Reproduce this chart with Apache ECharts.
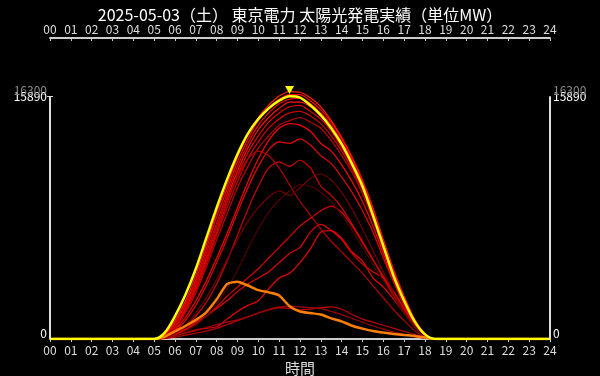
<!DOCTYPE html>
<html>
<head>
<meta charset="UTF-8">
<title>東京電力 太陽光発電実績</title>
<script type="text/javascript" src="https://cdn.jsdelivr.net/npm/echarts@6/dist/echarts.min.js"></script>
</head>
<body style="margin:0;background:#000">
	<div id="main" style="width:600px;height:376px"></div>
<script type="text/javascript">
var titleText = '2025-05-03（土） 東京電力 太陽光発電実績（単位MW）';
var recordMax = 16300;

// 05:00 - 18:30, 30分ごと (それ以外は0)
var hours = [5, 5.5, 6, 6.5, 7, 7.5, 8, 8.5, 9, 9.5, 10, 10.5, 11, 11.5, 12, 12.5,
  13, 13.5, 14, 14.5, 15, 15.5, 16, 16.5, 17, 17.5, 18, 18.5];

// 当日
var today = [0, 400, 1500, 2900, 4600, 6600, 8600, 10450, 12100, 13450, 14400, 15100, 15600, 15890,
  15800, 15300, 14650, 13800, 12750, 11450, 10000, 8100, 6100, 4100, 2500, 1150, 300, 0];

// 曇りの日
var cloudyDay = [0, 150, 500, 850, 1250, 1750, 2600, 3600, 3750, 3500, 3200, 3050, 2850, 2150,
  1800, 1700, 1600, 1350, 1150, 870, 680, 520, 420, 330, 260, 200, 100, 0];

// 過去の日
var pastDays = [
  [0, 250, 1200, 2500, 4200, 6200, 8300, 10100, 11900, 13400, 14500, 15300, 15900, 16200, 16150, 15800, 15200, 14300, 13200, 11900, 10400, 8600, 6500, 4500, 2800, 1300, 350, 0],
  [0, 200, 1050, 2300, 3900, 5900, 8000, 9800, 11600, 13100, 14300, 15100, 15700, 16000, 16000, 15600, 15000, 14200, 13100, 11800, 10300, 8500, 6400, 4400, 2700, 1250, 300, 0],
  [0, 180, 950, 2200, 3700, 5600, 7600, 9500, 11300, 12800, 14000, 14800, 15400, 15700, 15750, 15400, 14800, 14000, 12900, 11700, 10200, 8400, 6300, 4300, 2600, 1200, 280, 0],
  [0, 150, 850, 2000, 3500, 5300, 7300, 9200, 11000, 12500, 13700, 14500, 15100, 15500, 15500, 15200, 14600, 13800, 12700, 11500, 10000, 8200, 6200, 4200, 2600, 1150, 260, 0],
  [0, 150, 800, 1900, 3300, 5100, 7000, 8900, 10700, 12200, 13300, 14200, 14800, 15200, 15300, 14900, 14400, 13600, 12500, 11300, 9800, 8000, 6000, 4100, 2500, 1100, 250, 0],
  [0, 120, 750, 1800, 3200, 4900, 6800, 8600, 10300, 11800, 12900, 13800, 14400, 14800, 14900, 14600, 14100, 13300, 12300, 11100, 9700, 7900, 5900, 4000, 2400, 1050, 230, 0],
  [0, 100, 700, 1700, 3000, 4700, 6500, 8200, 9900, 11300, 12500, 13300, 14000, 14300, 14500, 14200, 13800, 13000, 12000, 10900, 9500, 7800, 5800, 3900, 2300, 1000, 220, 0],
  [0, 100, 600, 1400, 2500, 3800, 5300, 6900, 8600, 10300, 11800, 13000, 13800, 14100, 14000, 13600, 12800, 12300, 11400, 10300, 9000, 7400, 5600, 3800, 2300, 1000, 200, 0],
  [0, 80, 500, 1200, 2200, 3500, 5000, 6600, 8300, 9900, 11300, 12400, 12900, 12800, 13100, 12700, 12000, 11500, 10600, 9600, 8400, 7000, 5300, 3700, 2200, 950, 200, 0],
  [0, 60, 350, 800, 1500, 2400, 3600, 5100, 6800, 8500, 10000, 11200, 11600, 11300, 11700, 11200, 10000, 9400, 8600, 7500, 6400, 5200, 4000, 2800, 1700, 800, 150, 0],
  [0, 50, 200, 400, 600, 700, 800, 1300, 1800, 2200, 2500, 3300, 4000, 4300, 5000, 5900, 7000, 7100, 6600, 5700, 5100, 4000, 3400, 2600, 1700, 900, 200, 0],
  [0, 60, 300, 650, 1100, 1500, 2000, 2500, 3100, 3600, 4000, 4400, 5000, 5600, 6000, 7000, 7500, 7100, 6500, 5600, 4900, 4400, 4000, 3100, 2000, 1000, 200, 0],
  [0, 50, 250, 600, 1000, 1500, 2100, 2800, 3400, 4000, 4600, 5300, 6000, 6700, 7400, 7900, 8400, 8700, 8300, 7400, 6300, 5200, 4100, 3000, 1900, 900, 180, 0],
  [0, 150, 900, 2100, 3600, 5400, 7300, 9100, 10600, 11800, 12300, 12000, 11200, 10100, 9000, 8100, 7200, 6400, 5700, 5000, 4300, 3500, 2700, 1900, 1200, 550, 120, 0],
  [0, 40, 200, 500, 900, 1500, 2300, 3300, 4500, 5900, 7200, 8300, 9100, 9700, 10100, 10000, 9600, 9000, 8100, 7100, 6000, 4900, 3800, 2700, 1700, 800, 150, 0],
  [0, 60, 350, 900, 1700, 2700, 3900, 5200, 6500, 7700, 8600, 9300, 9700, 9400, 9900, 10500, 10800, 10400, 9600, 8500, 7200, 5800, 4400, 3000, 1800, 850, 170, 0],
  [0, 30, 120, 250, 380, 520, 700, 950, 1200, 1450, 1700, 1900, 2050, 2000, 1900, 1950, 2050, 2100, 1950, 1600, 1300, 1100, 900, 700, 500, 300, 80, 0],
  [0, 40, 200, 380, 550, 750, 950, 1100, 1250, 1450, 1700, 1950, 2100, 2150, 2100, 2050, 2000, 1800, 1600, 1350, 1100, 850, 650, 450, 300, 150, 40, 0]
];
var pastColors = ['#ff2000', '#ff0000', '#ee0000', '#ff1010', '#e00000', '#d00000', '#c00000',
  '#ff0000', '#e80000', '#d00000', '#ee0000', '#e00000', '#d80000', '#b00000',
  '#500000', '#700000', '#c00000', '#a00000'];

var hourLabels = ['00', '01', '02', '03', '04', '05', '06', '07', '08', '09', '10', '11', '12',
  '13', '14', '15', '16', '17', '18', '19', '20', '21', '22', '23', '24'];

function toPoints(vals) {
  var p = [[0, 0]];
  hours.forEach(function (h, i) { p.push([h, vals[i]]); });
  p.push([24, 0]);
  return p;
}

var peak = Math.max.apply(null, today);
var peakHour = hours[today.indexOf(peak)];

var font = 'Noto Sans CJK JP';
var myChart = echarts.init(document.getElementById('main'));

var series = [];
pastDays.forEach(function (d, i) {
  series.push({
    type: 'line',
    data: toPoints(d),
    showSymbol: false,
    smooth: 0.25,
    silent: true,
    z: 2,
    lineStyle: { color: pastColors[i], width: 1.2 }
  });
});
series.push({
  type: 'line',
  data: toPoints(cloudyDay),
  showSymbol: false,
  smooth: 0.2,
  z: 3,
  lineStyle: { color: '#ff8000', width: 2.5 }
});
series.push({
  type: 'line',
  data: toPoints(today),
  showSymbol: false,
  smooth: 0.3,
  z: 4,
  lineStyle: { color: '#ffff00', width: 2.5 },
  markLine: {
    silent: true,
    symbol: ['none', 'none'],
    label: { show: false },
    lineStyle: { color: '#dddddd', width: 2, type: 'solid' },
    data: [
      [{ coord: [0, 0] }, { coord: [0, peak] }],
      [{ coord: [24, 0] }, { coord: [24, peak] }]
    ]
  },
  markPoint: {
    silent: true,
    data: [{
      coord: [peakHour, recordMax],
      symbol: 'triangle',
      symbolRotate: 180,
      symbolSize: [9, 8],
      itemStyle: { color: '#ffff00' },
      label: { show: false }
    }]
  }
});

function xAxisCfg(pos) {
  return {
    type: 'value',
    position: pos,
    offset: pos === 'top' ? 52 : 0,
    min: 0,
    max: 24,
    interval: 1,
    axisLine: { onZero: false, lineStyle: { color: '#cccccc', width: 2 } },
    axisTick: { inside: pos === 'top', length: 3, lineStyle: { color: '#cccccc' } },
    axisLabel: {
      color: '#dddddd', fontSize: 12, fontFamily: font, margin: pos === 'top' ? 3 : 5,
      formatter: function (v) { return hourLabels[v]; }
    },
    splitLine: { show: false }
  };
}

// 0 と当日最大値のラベル
function yAxisCfg(pos) {
  return {
    type: 'value',
    position: pos,
    min: 0,
    max: recordMax,
    axisLine: { show: false },
    splitLine: { show: false },
    axisTick: { show: true, customValues: [peak], length: 3, lineStyle: { color: '#dddddd' } },
    axisLabel: {
      customValues: [0, peak],
      margin: 3,
      color: '#ffffff',
      fontSize: 12,
      fontFamily: font,
      formatter: function (v) {
        return v === 0 ? '{z|0}' : String(v);
      },
      rich: {
        z: { color: '#ffffff', fontSize: 12, fontFamily: font, padding: [0, 0, 12, 0] }
      }
    }
  };
}

// 過去最大値のラベル (灰色)
function recordAxisCfg(pos) {
  return {
    type: 'value',
    position: pos,
    min: 0,
    max: recordMax,
    axisLine: { show: false },
    splitLine: { show: false },
    axisTick: { show: false },
    axisLabel: {
      customValues: [recordMax],
      margin: 3,
      color: '#888888',
      fontSize: 12,
      fontFamily: font,
      padding: [0, 0, 5, 0],
      formatter: function (v) { return String(v); }
    }
  };
}

var bottomAxis = xAxisCfg('bottom');
bottomAxis.name = '時間';
bottomAxis.nameLocation = 'middle';
bottomAxis.nameGap = 22;
bottomAxis.nameTextStyle = { color: '#dddddd', fontSize: 15, fontFamily: font };

option = {
  backgroundColor: '#000000',
  animation: false,
  title: {
    text: titleText,
    left: 'center',
    top: 2,
    textStyle: { color: '#ffffff', fontSize: 16, fontWeight: 'normal', fontFamily: font }
  },
  grid: { left: 50, right: 50, top: 90, bottom: 37, outerBoundsMode: 'none' },
  xAxis: [bottomAxis, xAxisCfg('top')],
  yAxis: [yAxisCfg('left'), yAxisCfg('right'), recordAxisCfg('left'), recordAxisCfg('right')],
  series: series
};
myChart.setOption(option);
</script>
</body>
</html>
